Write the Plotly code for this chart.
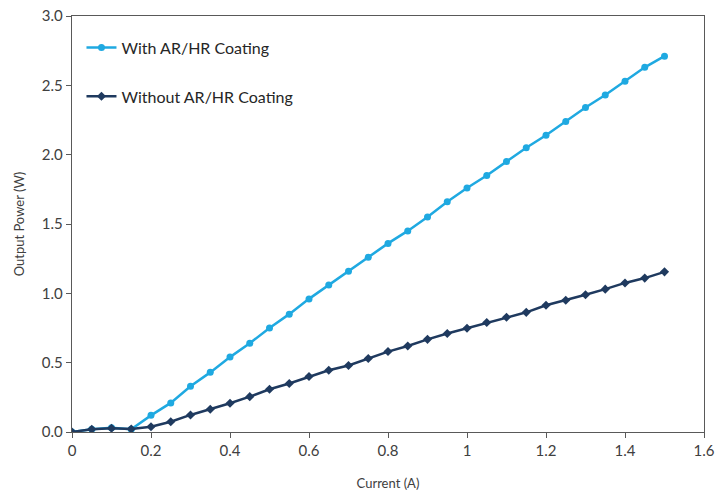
import plotly.graph_objects as go

current = [0.0, 0.05, 0.10, 0.15, 0.20, 0.25, 0.30, 0.35, 0.40, 0.45, 0.50, 0.55, 0.60, 0.65, 0.70,
           0.75, 0.80, 0.85, 0.90, 0.95, 1.00, 1.05, 1.10, 1.15, 1.20, 1.25, 1.30, 1.35, 1.40, 1.45, 1.50]
with_coating = [0.0, 0.02, 0.03, 0.02, 0.12, 0.21, 0.33, 0.43, 0.54, 0.64, 0.75, 0.85, 0.96, 1.06, 1.16,
                1.26, 1.36, 1.45, 1.55, 1.66, 1.76, 1.85, 1.95, 2.05, 2.14, 2.24, 2.34, 2.43, 2.53, 2.63, 2.71]
without_coating = [0.0, 0.02, 0.027, 0.022, 0.038, 0.074, 0.123, 0.164, 0.207, 0.255, 0.308, 0.35, 0.40, 0.445, 0.48,
                   0.53, 0.58, 0.62, 0.668, 0.71, 0.748, 0.79, 0.827, 0.863, 0.914, 0.95, 0.99, 1.03, 1.075, 1.11, 1.155]

x_ticks = [0, 0.2, 0.4, 0.6, 0.8, 1.0, 1.2, 1.4, 1.6]
x_labels = ["0", "0.2", "0.4", "0.6", "0.8", "1", "1.2", "1.4", "1.6"]
y_ticks = [0.0, 0.5, 1.0, 1.5, 2.0, 2.5, 3.0]
y_labels = ["0.0", "0.5", "1.0", "1.5", "2.0", "2.5", "3.0"]

LIGHT = "#1FA9E1"
DARK = "#1F3A5F"
FONT = "Lato"

fig = go.Figure()
fig.add_trace(go.Scatter(
    x=current, y=with_coating, mode="lines+markers", name="With AR/HR Coating",
    line=dict(color=LIGHT, width=2.5), marker=dict(symbol="circle", size=7, color=LIGHT),
    legendgroup="a"))
fig.add_trace(go.Scatter(
    x=current, y=without_coating, mode="lines+markers", name="Without AR/HR Coating",
    line=dict(color=DARK, width=2.5), marker=dict(symbol="diamond", size=7, color=DARK),
    legendgroup="b"))

axis_common = dict(showline=True, linecolor="#595959", linewidth=1.4, mirror=True,
                   ticks="outside", ticklen=5, tickcolor="#595959", showgrid=False, zeroline=False,
                   automargin=False,
                   tickfont=dict(family=FONT, size=15, color="#404040"))

fig.update_layout(
    width=716, height=493,
    margin=dict(l=72, r=12, t=16, b=61),
    paper_bgcolor="white", plot_bgcolor="white",
    font=dict(family=FONT, color="#404040"),
    xaxis=dict(range=[0, 1.6], tickvals=x_ticks, ticktext=x_labels,
               title=dict(text="Current (A)", font=dict(family=FONT, size=13, color="#404040"), standoff=20),
               **axis_common),
    yaxis=dict(range=[0, 3.0], tickvals=y_ticks, ticktext=y_labels,
               title=dict(text="Output Power (W)", font=dict(family=FONT, size=13, color="#404040"), standoff=14),
               **axis_common),
    legend=dict(x=0.015, y=0.965, xanchor="left", yanchor="top", bgcolor="rgba(0,0,0,0)",
                font=dict(family=FONT, size=16, color="#262626"),
                traceorder="grouped", tracegroupgap=25),
    showlegend=True,
)

# remove the default 8px page margin so the figure fills the window exactly
fig.write_html("out.html", config={"displayModeBar": False},
               post_script="document.body.style.margin='0';")
